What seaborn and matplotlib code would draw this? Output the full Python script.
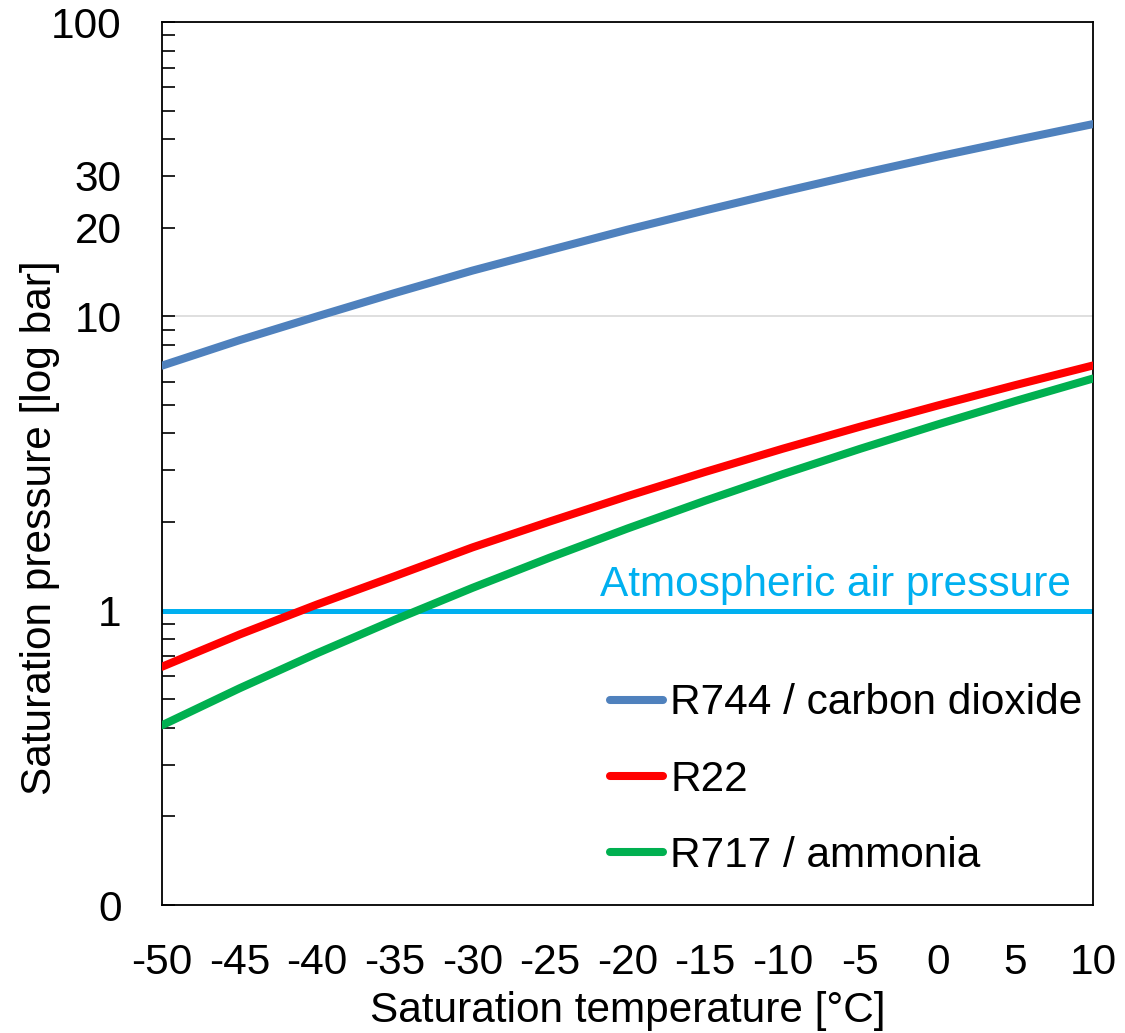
import numpy as np
import pandas as pd
import seaborn as sns
import matplotlib
matplotlib.use("Agg")
import matplotlib.pyplot as plt
from matplotlib.ticker import FixedLocator, FuncFormatter

# ---- data ----
temperature = [-50, -45, -40, -35, -30, -25, -20, -15, -10, -5, 0, 5, 10]
p_r744 = [6.8, 8.3, 10.0, 12.0, 14.3, 16.8, 19.7, 22.9, 26.5, 30.5, 34.9, 39.7, 45.0]
p_r22 = [0.645, 0.83, 1.05, 1.31, 1.64, 2.01, 2.45, 2.96, 3.55, 4.22, 4.98, 5.84, 6.81]
p_r717 = [0.408, 0.545, 0.717, 0.931, 1.195, 1.515, 1.902, 2.363, 2.909, 3.549, 4.294, 5.157, 6.149]
atm_pressure = 1.0
series_names = ["R744 / carbon dioxide", "R22", "R717 / ammonia"]
series_colors = ["#4F81BD", "#FF0000", "#00B050"]
x_ticks = [-50, -45, -40, -35, -30, -25, -20, -15, -10, -5, 0, 5, 10]
y_major = [0.1, 1, 10, 100]
y_minor = [m * d for d in (0.1, 1, 10) for m in range(2, 10)]
y_labelled_minor = [20, 30]

df = pd.DataFrame({
    "T": temperature * 3,
    "p": p_r744 + p_r22 + p_r717,
    "series": [series_names[0]] * 13 + [series_names[1]] * 13 + [series_names[2]] * 13,
})

sns.set_theme(style="white")
plt.rcParams["font.family"] = ["Liberation Sans", "DejaVu Sans"]
plt.rcParams["axes.unicode_minus"] = False
for k in ("text.color", "axes.labelcolor", "xtick.color", "ytick.color"):
    plt.rcParams[k] = "black"

FS = 30.5

fig = plt.figure(figsize=(11.25, 10.33), dpi=100)
ax = fig.add_axes([0.144, 0.1239, 0.8276, 0.8548])

# Atmospheric line
ax.plot([temperature[0], temperature[-1]], [atm_pressure, atm_pressure],
        color="#00B0F0", lw=3.6, solid_capstyle="butt", zorder=2)
ax.text(8.6, atm_pressure * 1.045, "Atmospheric air pressure", color="#00B0F0",
        fontsize=FS, ha="right", va="bottom")

sns.lineplot(data=df, x="T", y="p", hue="series", hue_order=series_names,
             palette=series_colors, lw=5.8, ax=ax, zorder=3)

ax.set_yscale("log")
ax.set_xlim(-50, 10)
ax.set_ylim(0.1, 100)

ax.yaxis.set_major_locator(FixedLocator(y_major))
ax.yaxis.set_minor_locator(FixedLocator(y_minor))
ax.yaxis.set_major_formatter(FuncFormatter(lambda v, p: "0" if v < 0.5 else f"{v:g}"))
ax.yaxis.set_minor_formatter(FuncFormatter(lambda v, p: f"{v:g}" if round(v) in y_labelled_minor else ""))
ax.set_xticks(x_ticks)

ax.tick_params(axis="y", which="both", direction="in", length=9, width=1.2,
               color="black", labelsize=FS, pad=29, left=True)
ax.tick_params(axis="x", which="both", length=0, labelsize=FS, pad=27)

ax.grid(False)
ax.yaxis.grid(True, which="major", color="#D9D9D9", lw=1.2)
ax.xaxis.grid(False)

for s in ax.spines.values():
    s.set_visible(True)
    s.set_color("black")
    s.set_linewidth(1.3)

ax.set_xlabel("Saturation temperature [°C]", fontsize=FS, labelpad=6)
ax.set_ylabel("Saturation pressure [log bar]", fontsize=FS)
ax.yaxis.set_label_coords(-0.11, 0.427)

leg = ax.legend(loc="lower right", bbox_to_anchor=(1.0195, 0.0), frameon=False, fontsize=FS,
                handlelength=1.25, handletextpad=0.17, labelspacing=0.86,
                borderaxespad=0.28)
for h in leg.get_lines():
    h.set_linewidth(5.8)
    h.set_solid_capstyle("round")

fig.savefig("out.png", dpi=100)
